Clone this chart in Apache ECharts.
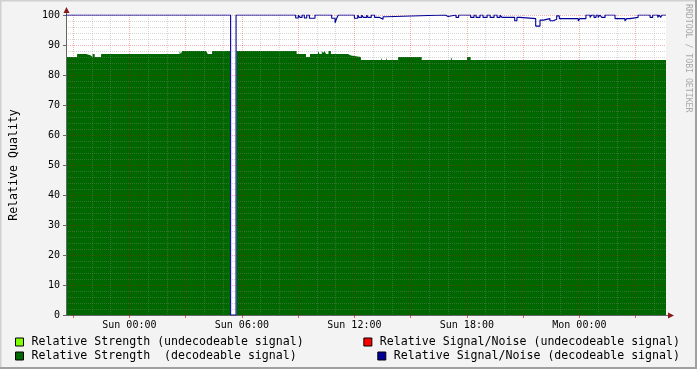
<!DOCTYPE html>
<html>
<head>
<meta charset="utf-8">
<script src="https://cdn.jsdelivr.net/npm/echarts@6/dist/echarts.min.js"></script>
<style>
html,body{margin:0;padding:0;background:#f3f3f3;}
#chart{width:697px;height:369px;}
</style>
</head>
<body>
<div id="chart"></div>
<script>
// Time in hours relative to Sun 00:00
const xMin = -3.38;
const xMax = 28.62;

// Relative Strength (decodeable signal): step change points
const strengthTimes = [-3.38,-2.79,-2.31,-2.08,-1.96,-1.85,-1.51,2.68,2.75,2.81,
  4.09,4.18,4.41,5.37,5.72,8.92,9.42,9.63,10.06,10.14,
  10.26,10.33,10.41,10.49,10.62,10.75,11.66,11.82,12.35,13.42,
  13.47,13.69,13.74,14.33,15.59,17.15,17.21,18.01,18.20,28.62];
const strengthValues = [86,87,86.6,86,87,86,87,88,87,88,
  87.5,87,88,0,88,87,86,87,88,87,
  88,87.3,88,87,88,87,86.5,86,85,85.7,
  85,85.7,85,86,85,86,85,86,85,85];

// Relative Signal/Noise (decodeable signal): step change points
const snrTimes = [-3.38,-1.83,-1.75,5.40,5.69,8.87,9.01,9.10,9.21,9.33,
  9.46,9.60,9.90,10.79,10.97,11.06,11.14,12.00,12.18,12.25,
  12.39,12.48,12.66,12.73,12.90,13.08,13.35,13.53,13.70,16.85,
  17.00,17.42,17.56,18.20,18.38,18.49,18.70,18.86,19.08,19.24,
  19.45,19.61,19.77,19.87,20.55,20.67,20.83,21.67,21.90,22.08,
  22.43,22.61,22.79,22.93,23.94,24.03,24.35,24.57,24.66,24.78,
  24.89,25.00,25.10,25.19,25.37,25.90,26.43,26.52,26.70,27.13,
  27.77,27.91,28.18,28.25,28.33,28.41,28.62];
const snrValues = [100,99.6,100,0,100,99,100,99.2,100,99,
  100,98.9,100,98.9,97.4,98.9,100,98.9,100,99.2,
  100,99.2,100,99.2,100,99.2,98.6,99.4,100,99.5,
  100,99.2,100,99.2,100,99.2,100,99.2,100,99.2,
  100,99.2,100,99.2,98.1,99.2,98.8,96.3,98.3,98.8,
  98.1,98.6,99.7,98.8,98,98.8,100,99.2,100,99.2,
  100,99.2,100,99.2,100,98.8,98,98.8,99.2,100,
  99.2,100,99.2,100,99.2,100,100];

// Tick positions (hours)
const majorTicks = [-3,0,3,6,9,12,15,18,21,24,27];
const labelTicks = [0,6,12,18,24];
const minorTicks = [-2,-1,1,2,4,5,7,8,10,11,13,14,16,17,19,20,22,23,25,26,28];

const seriesNames = [
  'Relative Strength (undecodeable signal)',
  'Relative Strength  (decodeable signal)',
  'Relative Signal/Noise (undecodeable signal)',
  'Relative Signal/Noise (decodeable signal)'
];

const strengthData = strengthTimes.map((t,i)=>[t,strengthValues[i]]);
const snrData = snrTimes.map((t,i)=>[t,snrValues[i]]);

const MONO = '"DejaVu Sans Mono", monospace';
const G = {left:66, top:15, right:31, bottom:54};
const plotR = 697 - G.right, plotB = 369 - G.bottom;

function fmtLabel(v){
  const h = Math.round(v);
  const day = h < 24 ? 'Sun' : 'Mon';
  const hh = ((h % 24) + 24) % 24;
  return day + ' ' + String(hh).padStart(2,'0') + ':00';
}

function legendItem(name, pos){
  return Object.assign({
    data:[name], orient:'horizontal', padding:0, icon:'rect',
    itemWidth:8, itemHeight:8, selectedMode:false,
    itemStyle:{borderColor:'#000', borderWidth:1},
    textStyle:{fontFamily:MONO, fontSize:11.6, color:'#000', lineHeight:14, padding:[0,0,0,3]}
  }, pos);
}

const majorGrid = {color:'rgba(230,0,0,0.3)', width:1, type:[1,1]};
const minorGrid = {color:'rgba(140,140,140,0.35)', width:1, type:[1,1]};

const chart = echarts.init(document.getElementById('chart'), null, {renderer:'canvas'});
chart.setOption({
  animation:false,
  backgroundColor:'#f3f3f3',
  grid:{left:G.left, top:G.top, right:G.right, bottom:G.bottom, show:true, backgroundColor:'#ffffff', borderWidth:0, containLabel:false, outerBoundsMode:'none'},
  legend:[
    legendItem(seriesNames[0], {left:15, top:335}),
    legendItem(seriesNames[1], {left:15, top:349}),
    legendItem(seriesNames[2], {right:17, top:335}),
    legendItem(seriesNames[3], {right:17, top:349})
  ],
  xAxis:[{
    type:'value', min:xMin, max:xMax, z:3,
    axisLine:{show:true, onZero:false, lineStyle:{color:'#666', width:1}},
    axisTick:{show:true, customValues:majorTicks, length:3, lineStyle:{color:'rgba(200,0,0,0.6)'}},
    axisLabel:{show:true, customValues:labelTicks, formatter:fmtLabel, fontFamily:MONO, fontSize:10, color:'#000', margin:5},
    splitLine:{show:true, lineStyle:majorGrid}
  },{
    type:'value', min:xMin, max:xMax, position:'top', z:3,
    axisLine:{show:false, onZero:false}, axisLabel:{show:false},
    axisTick:{show:false, customValues:minorTicks},
    splitLine:{show:true, lineStyle:minorGrid}
  }],
  yAxis:{
    type:'value', min:0, max:100, interval:10, z:3,
    name:'Relative Quality', nameLocation:'middle', nameGap:46, nameRotate:90,
    nameTextStyle:{fontFamily:MONO, fontSize:11.6, color:'#000'},
    axisLine:{show:true, onZero:false, lineStyle:{color:'#666', width:1}},
    axisTick:{show:true, length:3, lineStyle:{color:'#666'}},
    axisLabel:{fontFamily:MONO, fontSize:10, color:'#000', margin:6},
    splitLine:{show:true, lineStyle:majorGrid},
    minorTick:{show:false, splitNumber:5},
    minorSplitLine:{show:true, lineStyle:minorGrid}
  },
  series:[
    {name:seriesNames[0], type:'line', data:[], itemStyle:{color:'#80ff00'}},
    {name:seriesNames[1], type:'line', step:'end', data:strengthData, z:2,
      showSymbol:false, symbol:'none', itemStyle:{color:'#006600'},
      lineStyle:{width:0}, areaStyle:{color:'#006600', opacity:1}},
    {name:seriesNames[2], type:'line', data:[], itemStyle:{color:'#ff0000'}},
    {name:seriesNames[3], type:'line', step:'end', data:snrData, z:5,
      showSymbol:false, symbol:'none', itemStyle:{color:'#000099'},
      lineStyle:{width:1.1, color:'#000099'}}
  ],
  graphic:[
    {type:'line', shape:{x1:0,y1:0.5,x2:697,y2:0.5}, style:{stroke:'#d0d0d0', lineWidth:2}, silent:true},
    {type:'line', shape:{x1:0.5,y1:0,x2:0.5,y2:369}, style:{stroke:'#d0d0d0', lineWidth:2}, silent:true},
    {type:'line', shape:{x1:696,y1:0,x2:696,y2:369}, style:{stroke:'#a0a0a0', lineWidth:2}, silent:true},
    {type:'line', shape:{x1:0,y1:368,x2:697,y2:368}, style:{stroke:'#a0a0a0', lineWidth:2}, silent:true},
    {type:'line', shape:{x1:G.left+0.5,y1:G.top,x2:G.left+0.5,y2:G.top-4}, style:{stroke:'#666', lineWidth:1}, silent:true},
    {type:'line', shape:{x1:plotR,y1:plotB+0.5,x2:plotR+4,y2:plotB+0.5}, style:{stroke:'#666', lineWidth:1}, silent:true},
    {type:'polygon', shape:{points:[[G.left+0.5,G.top-8],[G.left-2.5,G.top-2],[G.left+3.5,G.top-2]]}, style:{fill:'#8a1a1a'}, silent:true},
    {type:'polygon', shape:{points:[[plotR+8,plotB+0.5],[plotR+2,plotB-2.5],[plotR+2,plotB+3.5]]}, style:{fill:'#8a1a1a'}, silent:true},
    {type:'text', x:692, y:4, rotation:-Math.PI/2,
      style:{text:'RRDTOOL / TOBI OETIKER', fontFamily:MONO, fontSize:8.2, fill:'#a8a8a8', textAlign:'left', textVerticalAlign:'top'}, silent:true}
  ]
});
</script>
</body>
</html>
